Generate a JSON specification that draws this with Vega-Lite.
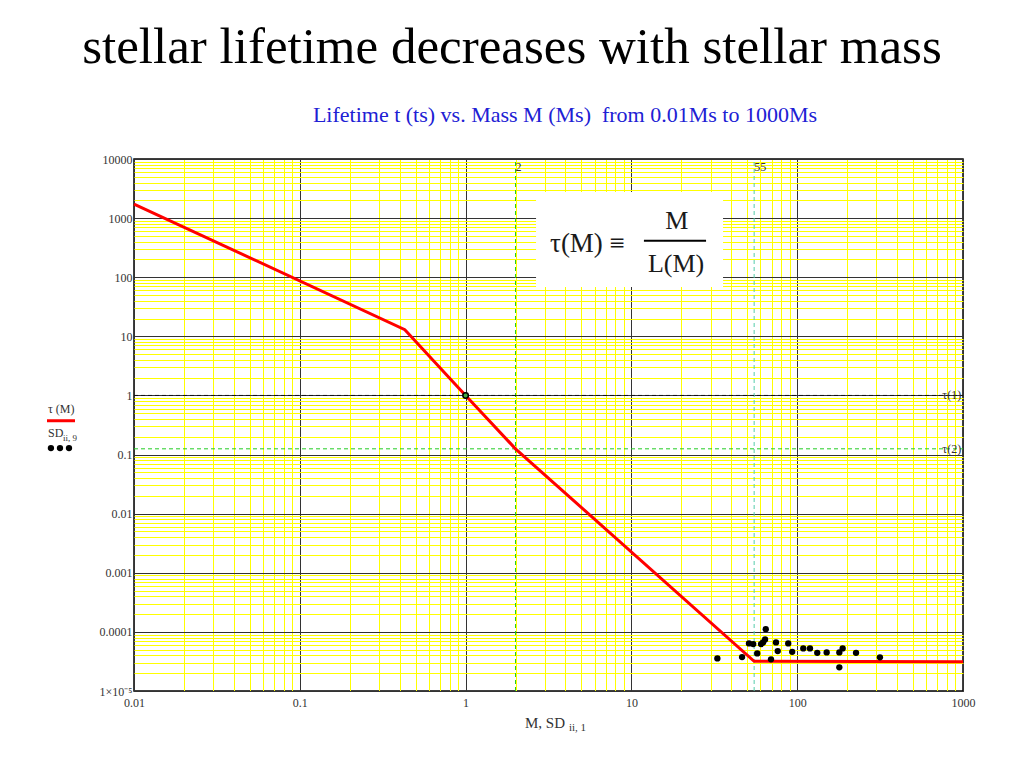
{
  "$schema": "https://vega.github.io/schema/vega-lite/v6.json",
  "width": 829,
  "height": 532,
  "autosize": {"type": "none"},
  "padding": {"left": 134, "top": 159, "right": 61, "bottom": 77},
  "background": "white",
  "config": {"view": {"stroke": "black", "strokeWidth": 1.5}, "axis": {"grid": false, "gridColor": "#ffff00", "ticks": false, "domain": false}},
  "datasets": {
    "box": [{"M": 2.66, "M2": 35.7, "tau": 2765, "tau2": 68.3}],
    "vline2": [{"M": 2, "tau": 0.00001, "tau2": 10000}],
    "vline55": [{"M": 55, "tau": 0.00001, "tau2": 10000}],
    "hline1": [{"M": 0.01, "M2": 1000, "tau": 1}],
    "hline2": [{"M": 0.01, "M2": 1000, "tau": 0.125}],
    "curve": [
      {"M": 0.01, "tau": 1731},
      {"M": 0.43, "tau": 12.99},
      {"M": 1, "tau": 1},
      {"M": 2, "tau": 0.125},
      {"M": 55, "tau": 0.0000318},
      {"M": 1000, "tau": 0.00003125}
    ],
    "sun": [{"M": 1, "tau": 1}],
    "stars": [
      {"M": 33.0, "tau": 0.0000356},
      {"M": 46.5, "tau": 0.0000375},
      {"M": 51.2, "tau": 0.0000638},
      {"M": 54.3, "tau": 0.0000622},
      {"M": 57.4, "tau": 0.0000433},
      {"M": 60.5, "tau": 0.0000622},
      {"M": 62.2, "tau": 0.0000664},
      {"M": 64.0, "tau": 0.0000746},
      {"M": 64.6, "tau": 0.000111},
      {"M": 69.5, "tau": 0.0000343},
      {"M": 74.5, "tau": 0.0000664},
      {"M": 76.3, "tau": 0.0000473},
      {"M": 88.3, "tau": 0.0000638},
      {"M": 93.3, "tau": 0.000046},
      {"M": 108.8, "tau": 0.0000526},
      {"M": 119.4, "tau": 0.0000526},
      {"M": 132.1, "tau": 0.0000443},
      {"M": 150.6, "tau": 0.000045},
      {"M": 179.5, "tau": 0.000045},
      {"M": 188.0, "tau": 0.0000526},
      {"M": 179.5, "tau": 0.0000251},
      {"M": 226.4, "tau": 0.0000443},
      {"M": 315.5, "tau": 0.0000371}
    ],
    "markerTop": [{"M": 2.0, "tau": 7328, "label": "2"}, {"M": 55.0, "tau": 7328, "label": "55"}],
    "markerRight": [{"M": 975, "tau": 1, "label": "τ(1)"}, {"M": 975, "tau": 0.125, "label": "τ(2)"}],
    "formulaLeft": [{"M": 3.23, "tau": 270, "label": "τ(M) ≡"}],
    "formulaFrac": [{"M": 18.8, "tau": 646, "label": "M"}, {"M": 18.6, "tau": 124, "label": "L(M)"}],
    "fracBar": [{"M": 11.9, "M2": 28.2, "tau": 415}],
    "legendText": [{"M": 0.00303, "tau": 0.5035, "label": "τ (M)"}, {"M": 0.00303, "tau": 0.1977, "label": "SD"}],
    "legendSub": [{"M": 0.00373, "tau": 0.1692, "label": "ii, 9"}],
    "legendLine": [{"M": 0.002987, "M2": 0.004406, "tau": 0.3733}],
    "legendDots": [{"M": 0.003155, "tau": 0.1288}, {"M": 0.003578, "tau": 0.1288}, {"M": 0.004055, "tau": 0.1288}],
    "xTitle": [{"M": 2.281, "tau": 0.000002355, "label": "M, SD"}],
    "xTitleSub": [{"M": 4.2, "tau": 0.000002094, "label": "ii, 1"}],
    "subtitle": [{"M": 3.977, "tau": 55540, "label": "Lifetime t (ts) vs. Mass M (Ms)\u00a0 from 0.01Ms to 1000Ms"}],
    "mainTitle": [{"M": 1.905, "tau": 420700, "label": "stellar lifetime decreases with stellar mass"}]
  },
  "encoding": {
    "x": {
      "field": "M", "type": "quantitative",
      "scale": {"type": "log", "domain": [0.01, 1000], "nice": false},
      "axis": {
        "title": null,
        "values": [0.01,0.02,0.03,0.04,0.05,0.06,0.07,0.08,0.09,0.1,0.2,0.3,0.4,0.5,0.6,0.7,0.8,0.9,1,2,3,4,5,6,7,8,9,10,20,30,40,50,60,70,80,90,100,200,300,400,500,600,700,800,900,1000],
        "grid": true,
        "gridColor": {"condition": {"test": "abs(log(datum.value)/LN10 - round(log(datum.value)/LN10)) < 0.001", "value": "#333333"}, "value": "#ffff00"},
        "gridWidth": 1,
        "gridOpacity": 1,
        "ticks": false,
        "domain": false,
        "labelOverlap": false,
        "labelFlush": false,
        "labelFont": "Liberation Serif",
        "labelFontSize": 12,
        "labelColor": "#333333",
        "labelPadding": 6,
        "labelExpr": "abs(log(datum.value)/LN10 - round(log(datum.value)/LN10)) < 0.001 ? (datum.value >= 1 ? format(datum.value, 'd') : format(datum.value, '.' + (-round(log(datum.value)/LN10)) + 'f')) : ''"
      }
    },
    "y": {
      "field": "tau", "type": "quantitative",
      "scale": {"type": "log", "domain": [0.00001, 10000], "nice": false},
      "axis": {
        "title": null,
        "values": [0.00001,0.00002,0.00003,0.00004,0.00005,0.00006,0.00007,0.00008,0.00009,0.0001,0.0002,0.0003,0.0004,0.0005,0.0006,0.0007,0.0008,0.0009,0.001,0.002,0.003,0.004,0.005,0.006,0.007,0.008,0.009,0.01,0.02,0.03,0.04,0.05,0.06,0.07,0.08,0.09,0.1,0.2,0.3,0.4,0.5,0.6,0.7,0.8,0.9,1,2,3,4,5,6,7,8,9,10,20,30,40,50,60,70,80,90,100,200,300,400,500,600,700,800,900,1000,2000,3000,4000,5000,6000,7000,8000,9000,10000],
        "grid": true,
        "gridColor": {"condition": {"test": "abs(log(datum.value)/LN10 - round(log(datum.value)/LN10)) < 0.001", "value": "#333333"}, "value": "#ffff00"},
        "gridWidth": 1,
        "gridOpacity": 1,
        "ticks": false,
        "domain": false,
        "labelOverlap": false,
        "labelFlush": false,
        "labelFont": "Liberation Serif",
        "labelFontSize": 12,
        "labelColor": "#333333",
        "labelPadding": 2,
        "labelExpr": "abs(log(datum.value)/LN10 - round(log(datum.value)/LN10)) < 0.001 ? (datum.value < 0.00005 ? '1×10⁻⁵' : (datum.value >= 1 ? format(datum.value, 'd') : format(datum.value, '.' + (-round(log(datum.value)/LN10)) + 'f'))) : ''"
      }
    }
  },
  "layer": [
    {"data": {"name": "box"}, "mark": {"type": "rect", "fill": "white"}, "encoding": {"x2": {"field": "M2"}, "y2": {"field": "tau2"}}},
    {"data": {"name": "vline2"}, "mark": {"type": "rule", "stroke": "#22cc22", "strokeWidth": 1, "strokeDash": [4, 3]}, "encoding": {"y2": {"field": "tau2"}}},
    {"data": {"name": "vline55"}, "mark": {"type": "rule", "stroke": "#55ccaa", "strokeWidth": 1, "strokeDash": [4, 3]}, "encoding": {"y2": {"field": "tau2"}}},
    {"data": {"name": "hline1"}, "mark": {"type": "rule", "stroke": "#111111", "strokeWidth": 1, "strokeDash": [4, 3]}, "encoding": {"x2": {"field": "M2"}}},
    {"data": {"name": "hline2"}, "mark": {"type": "rule", "stroke": "#22cc22", "strokeWidth": 1, "strokeDash": [4, 3]}, "encoding": {"x2": {"field": "M2"}}},
    {"data": {"name": "curve"}, "mark": {"type": "line", "color": "#ff0000", "strokeWidth": 3}, "encoding": {"order": {"field": "M", "type": "quantitative"}}},
    {"data": {"name": "sun"}, "mark": {"type": "point", "shape": "circle", "filled": true, "fill": "#44aa44", "stroke": "black", "strokeWidth": 1.5, "size": 30, "opacity": 1}},
    {"data": {"name": "stars"}, "mark": {"type": "circle", "color": "black", "size": 40, "opacity": 1}},
    {"data": {"name": "markerTop"}, "mark": {"type": "text", "align": "left", "baseline": "middle", "dx": 0, "font": "Liberation Serif", "fontSize": 12, "color": "#333333"}, "encoding": {"text": {"field": "label"}}},
    {"data": {"name": "markerRight"}, "mark": {"type": "text", "align": "right", "baseline": "middle", "font": "Liberation Serif", "fontSize": 12, "color": "#333333"}, "encoding": {"text": {"field": "label"}}},
    {"data": {"name": "formulaLeft"}, "mark": {"type": "text", "align": "left", "baseline": "alphabetic", "font": "Liberation Serif", "fontSize": 27, "color": "#1a1a1a"}, "encoding": {"text": {"field": "label"}}},
    {"data": {"name": "formulaFrac"}, "mark": {"type": "text", "align": "center", "baseline": "alphabetic", "font": "Liberation Serif", "fontSize": 26, "color": "#1a1a1a"}, "encoding": {"text": {"field": "label"}}},
    {"data": {"name": "fracBar"}, "mark": {"type": "rule", "stroke": "black", "strokeWidth": 2}, "encoding": {"x2": {"field": "M2"}}},
    {"data": {"name": "legendText"}, "mark": {"type": "text", "align": "left", "baseline": "alphabetic", "font": "Liberation Serif", "fontSize": 12, "color": "#333333"}, "encoding": {"text": {"field": "label"}}},
    {"data": {"name": "legendSub"}, "mark": {"type": "text", "align": "left", "baseline": "alphabetic", "font": "Liberation Serif", "fontSize": 9, "color": "#333333"}, "encoding": {"text": {"field": "label"}}},
    {"data": {"name": "legendLine"}, "mark": {"type": "rule", "stroke": "#ff0000", "strokeWidth": 3}, "encoding": {"x2": {"field": "M2"}}},
    {"data": {"name": "legendDots"}, "mark": {"type": "circle", "color": "black", "size": 40, "opacity": 1}},
    {"data": {"name": "xTitle"}, "mark": {"type": "text", "align": "left", "baseline": "alphabetic", "font": "Liberation Serif", "fontSize": 15, "color": "#333333"}, "encoding": {"text": {"field": "label"}}},
    {"data": {"name": "xTitleSub"}, "mark": {"type": "text", "align": "left", "baseline": "alphabetic", "font": "Liberation Serif", "fontSize": 11, "color": "#333333"}, "encoding": {"text": {"field": "label"}}},
    {"data": {"name": "subtitle"}, "mark": {"type": "text", "align": "center", "baseline": "middle", "font": "Liberation Serif", "fontSize": 22, "color": "#2020d4"}, "encoding": {"text": {"field": "label"}}},
    {"data": {"name": "mainTitle"}, "mark": {"type": "text", "align": "center", "baseline": "alphabetic", "font": "Liberation Serif", "fontSize": 51, "color": "black"}, "encoding": {"text": {"field": "label"}}}
  ]
}
